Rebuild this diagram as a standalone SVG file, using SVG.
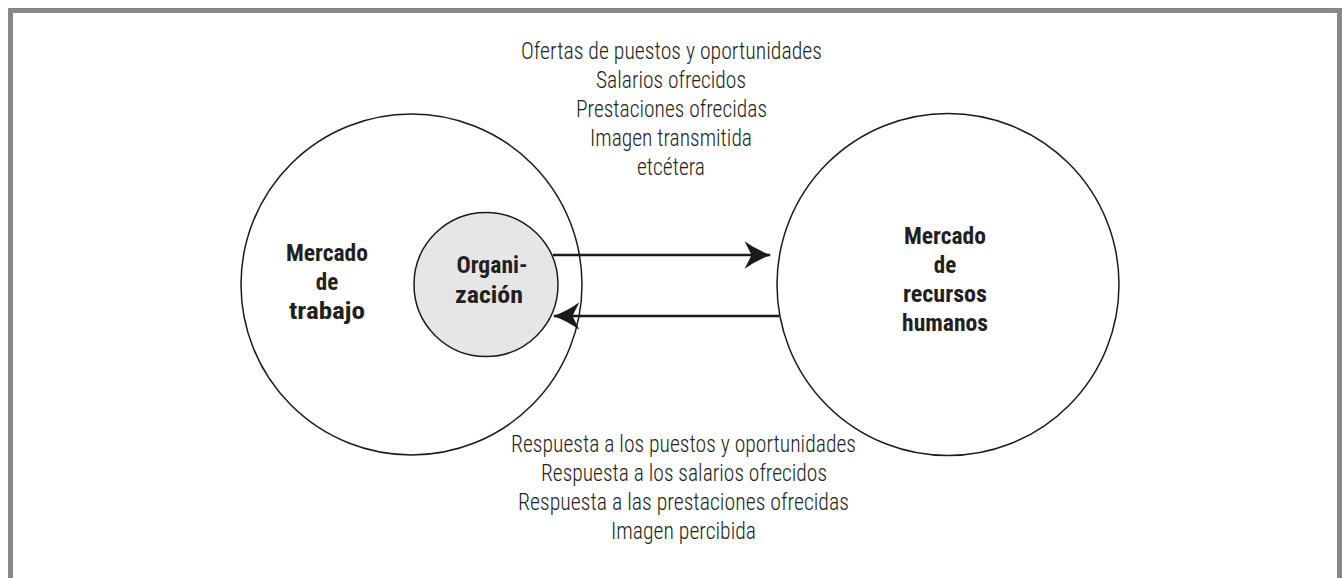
<svg xmlns="http://www.w3.org/2000/svg" width="1342" height="578" viewBox="0 0 1342 578">
<style>
.frame{fill:none;stroke:#87878b;stroke-width:5}
.ring{fill:#fff;stroke:#1a1a1a;stroke-width:1.5}
.org{fill:#e6e6e8;stroke:#1a1a1a;stroke-width:1.5}
.t{font-family:"Liberation Sans Narrow","Roboto Condensed","DejaVu Sans Condensed","Liberation Sans",sans-serif;font-size:23.5px;font-weight:300;fill:#231f20;text-anchor:middle}
.b{font-weight:bold;font-size:23px}
.conn{stroke:#1a1a1a;stroke-width:2.5;fill:none}
</style>
<defs>
<marker id="ah" markerUnits="userSpaceOnUse" markerWidth="30" markerHeight="30" refX="0" refY="0" viewBox="-24 -13 26 26" orient="auto">
<path d="M1,0 Q-11,-4 -22,-12 L-16,0 L-22,12 Q-11,4 1,0 Z" fill="#1a1a1a"/>
</marker>
</defs>
<path class="frame" d="M10.5,578 V10.5 H1339.5 V578"/>
<g id="mercado-trabajo">
<circle class="ring" cx="411.5" cy="284.5" r="170.5"/>
<text class="t b" x="327" y="261" textLength="82" lengthAdjust="spacingAndGlyphs">Mercado</text>
<text class="t b" x="327" y="290">de</text>
<text class="t b" x="327" y="319" textLength="76" lengthAdjust="spacingAndGlyphs">trabajo</text>
</g>
<g id="organizacion">
<circle class="org" cx="486" cy="284.5" r="72"/>
<text class="t b" x="492" y="273" textLength="71" lengthAdjust="spacingAndGlyphs">Organi-</text>
<text class="t b" x="489" y="303" textLength="68" lengthAdjust="spacingAndGlyphs">zación</text>
</g>
<g id="mercado-recursos">
<circle class="ring" cx="948" cy="284.5" r="171"/>
<text class="t b" x="945" y="244" textLength="82" lengthAdjust="spacingAndGlyphs">Mercado</text>
<text class="t b" x="945" y="273">de</text>
<text class="t b" x="945" y="302" textLength="84" lengthAdjust="spacingAndGlyphs">recursos</text>
<text class="t b" x="945" y="331" textLength="86" lengthAdjust="spacingAndGlyphs">humanos</text>
</g>
<g id="connectors">
<line class="conn" x1="553" y1="255" x2="770" y2="255" marker-end="url(#ah)"/>
<line class="conn" x1="779" y1="316" x2="554" y2="316" marker-end="url(#ah)"/>
</g>
<g id="ofertas">
<text class="t" x="671.5" y="59" textLength="301" lengthAdjust="spacingAndGlyphs">Ofertas de puestos y oportunidades</text>
<text class="t" x="671" y="88" textLength="150" lengthAdjust="spacingAndGlyphs">Salarios ofrecidos</text>
<text class="t" x="671.5" y="117" textLength="191" lengthAdjust="spacingAndGlyphs">Prestaciones ofrecidas</text>
<text class="t" x="671" y="146" textLength="162" lengthAdjust="spacingAndGlyphs">Imagen transmitida</text>
<text class="t" x="671" y="175" textLength="68" lengthAdjust="spacingAndGlyphs">etcétera</text>
</g>
<g id="respuestas">
<text class="t" x="683.5" y="452" textLength="345" lengthAdjust="spacingAndGlyphs">Respuesta a los puestos y oportunidades</text>
<text class="t" x="684" y="481" textLength="286" lengthAdjust="spacingAndGlyphs">Respuesta a los salarios ofrecidos</text>
<text class="t" x="683.5" y="510" textLength="331" lengthAdjust="spacingAndGlyphs">Respuesta a las prestaciones ofrecidas</text>
<text class="t" x="683.5" y="539" textLength="145" lengthAdjust="spacingAndGlyphs">Imagen percibida</text>
</g>
</svg>
